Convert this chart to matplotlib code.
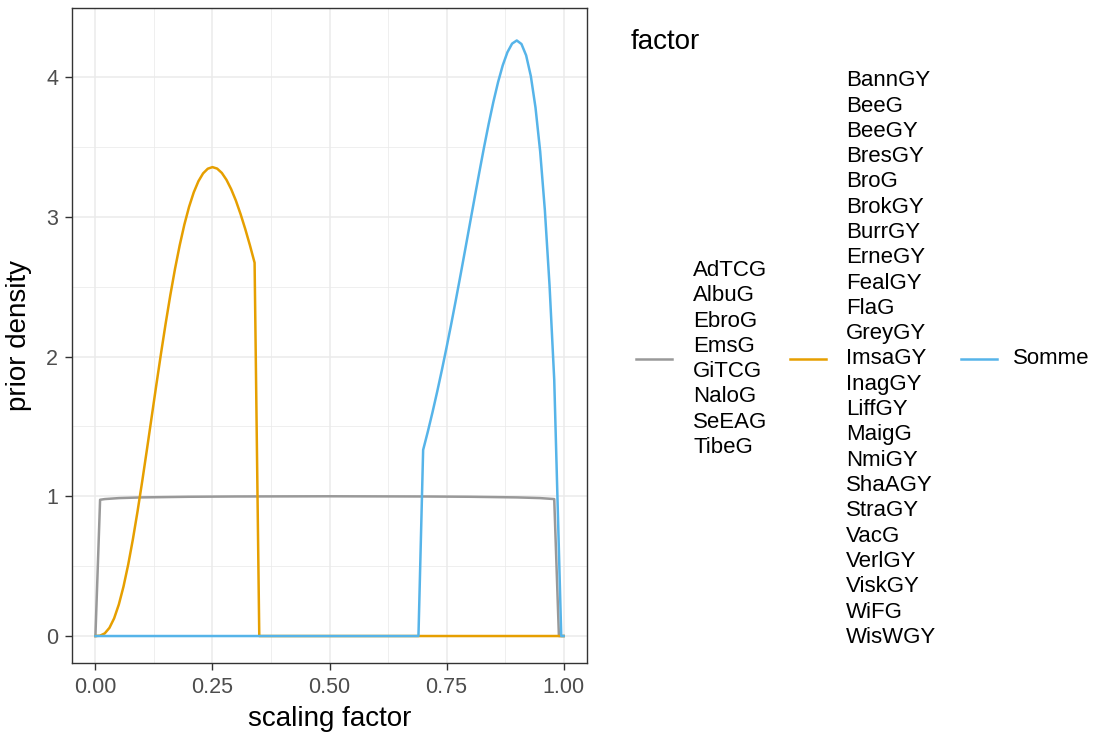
import numpy as np
import matplotlib
matplotlib.use("Agg")
import matplotlib.pyplot as plt
from matplotlib.lines import Line2D

plt.rcParams['font.family'] = ['Liberation Sans', 'DejaVu Sans']

# --- data ---
grey_x = [0.00, 0.01, 0.02, 0.05, 0.10, 0.20, 0.30, 0.50, 0.70, 0.80, 0.90, 0.95, 0.98, 0.99, 1.00]
grey_y = [0.0, 0.975, 0.980, 0.987, 0.992, 0.9965, 0.9986, 1.0, 0.9986, 0.9965, 0.992, 0.987, 0.980, 0.0, 0.0]

orange_x = [0.00, 0.01, 0.02, 0.03, 0.04, 0.05, 0.06, 0.07, 0.08, 0.09,
            0.10, 0.11, 0.12, 0.13, 0.14, 0.15, 0.16, 0.17, 0.18, 0.19,
            0.20, 0.21, 0.22, 0.23, 0.24, 0.25, 0.26, 0.27, 0.28, 0.29,
            0.30, 0.31, 0.32, 0.33, 0.34, 0.35, 1.00]
orange_y = [0.0, 0.0026, 0.0191, 0.0587, 0.1268, 0.2253, 0.3540, 0.5105, 0.6914, 0.8922,
            1.1080, 1.3336, 1.5640, 1.7943, 2.0195, 2.2357, 2.4394, 2.6269, 2.7956, 2.9443,
            3.0709, 3.1744, 3.2543, 3.3107, 3.3440, 3.3554, 3.3449, 3.3140, 3.2641, 3.1975,
            3.1161, 3.0198, 2.9130, 2.7966, 2.6712, 0.0, 0.0]

blue_x = [0.00, 0.69, 0.70, 0.71, 0.72, 0.73, 0.74, 0.75, 0.76, 0.77, 0.78, 0.79,
          0.80, 0.81, 0.82, 0.83, 0.84, 0.85, 0.86, 0.87, 0.88, 0.89,
          0.90, 0.91, 0.92, 0.93, 0.94, 0.95, 0.96, 0.97, 0.98, 0.995, 1.00]
blue_y = [0.0, 0.0, 1.3317, 1.4623, 1.6013, 1.7484, 1.9030, 2.0648, 2.2329, 2.4070, 2.5860, 2.7685,
          2.9528, 3.1369, 3.3187, 3.4960, 3.6648, 3.8217, 3.9629, 4.0835, 4.1774, 4.2391,
          4.2616, 4.2363, 4.1550, 4.0072, 3.7817, 3.4664, 3.0471, 2.5088, 1.8342, 0.0, 0.0]

grey_labels = ["AdTCG", "AlbuG", "EbroG", "EmsG", "GiTCG", "NaloG", "SeEAG", "TibeG"]
orange_labels = ["BannGY", "BeeG", "BeeGY", "BresGY", "BroG", "BrokGY", "BurrGY", "ErneGY",
                 "FealGY", "FlaG", "GreyGY", "ImsaGY", "InagGY", "LiffGY", "MaigG", "NmiGY",
                 "ShaAGY", "StraGY", "VacG", "VerlGY", "ViskGY", "WiFG", "WisWGY"]
blue_labels = ["Somme"]

x_ticks = [0.0, 0.25, 0.5, 0.75, 1.0]
x_ticklabels = ["0.00", "0.25", "0.50", "0.75", "1.00"]
y_ticks = [0, 1, 2, 3, 4]

colors = ["#999999", "#E69F00", "#56B4E9"]

W, H = 1097, 737
fig = plt.figure(figsize=(W / 100, H / 100), dpi=100)
ax = fig.add_axes([72 / W, 1 - 663 / H, (587 - 72) / W, (663 - 8) / H])

series = [(grey_x, grey_y), (orange_x, orange_y), (blue_x, blue_y)]
for (sx, sy), c in zip(series, colors):
    ax.plot(sx, sy, color=c, lw=1.8, solid_joinstyle='round', zorder=3)

ax.set_xlim(-0.05, 1.05)
ax.set_ylim(-0.193, 4.494)

ax.set_xticks(x_ticks)
ax.set_xticklabels(x_ticklabels)
ax.set_yticks(y_ticks)
ax.set_xticks([0.125, 0.375, 0.625, 0.875], minor=True)
ax.set_yticks([0.5, 1.5, 2.5, 3.5], minor=True)

ax.grid(which='major', color='#EBEBEB', lw=1.1)
ax.grid(which='minor', color='#EBEBEB', lw=0.55)
ax.set_axisbelow(True)
for s in ax.spines.values():
    s.set_color('#333333')
    s.set_linewidth(1.0)
ax.tick_params(which='major', length=5, width=1.0, color='#333333',
               labelcolor='#4D4D4D', labelsize=15.5, pad=5)
ax.tick_params(which='minor', length=0)

ax.set_xlabel("scaling factor", fontsize=20, color='black', labelpad=6)
ax.set_ylabel("prior density", fontsize=20, color='black', labelpad=10)

# --- legend, ggplot style: keys side by side, labels stacked ---
fig.text(631 / W, 1 - 42 / H, "factor", fontsize=20, ha='left', va='center')

pitch = 25.3
cy = 359
groups = [(636, 693, grey_labels), (790, 846, orange_labels), (961, 1013, blue_labels)]
for (kx, tx, labs), c in zip(groups, colors):
    fig.add_artist(Line2D([kx / W, (kx + 36) / W], [1 - cy / H, 1 - cy / H],
                          color=c, lw=1.8, transform=fig.transFigure))
    n = len(labs)
    for i, lab in enumerate(labs):
        yy = cy + (i - (n - 1) / 2) * pitch
        fig.text(tx / W, 1 - yy / H, lab, fontsize=16, ha='left', va='center')

fig.savefig("out.png", dpi=100)
